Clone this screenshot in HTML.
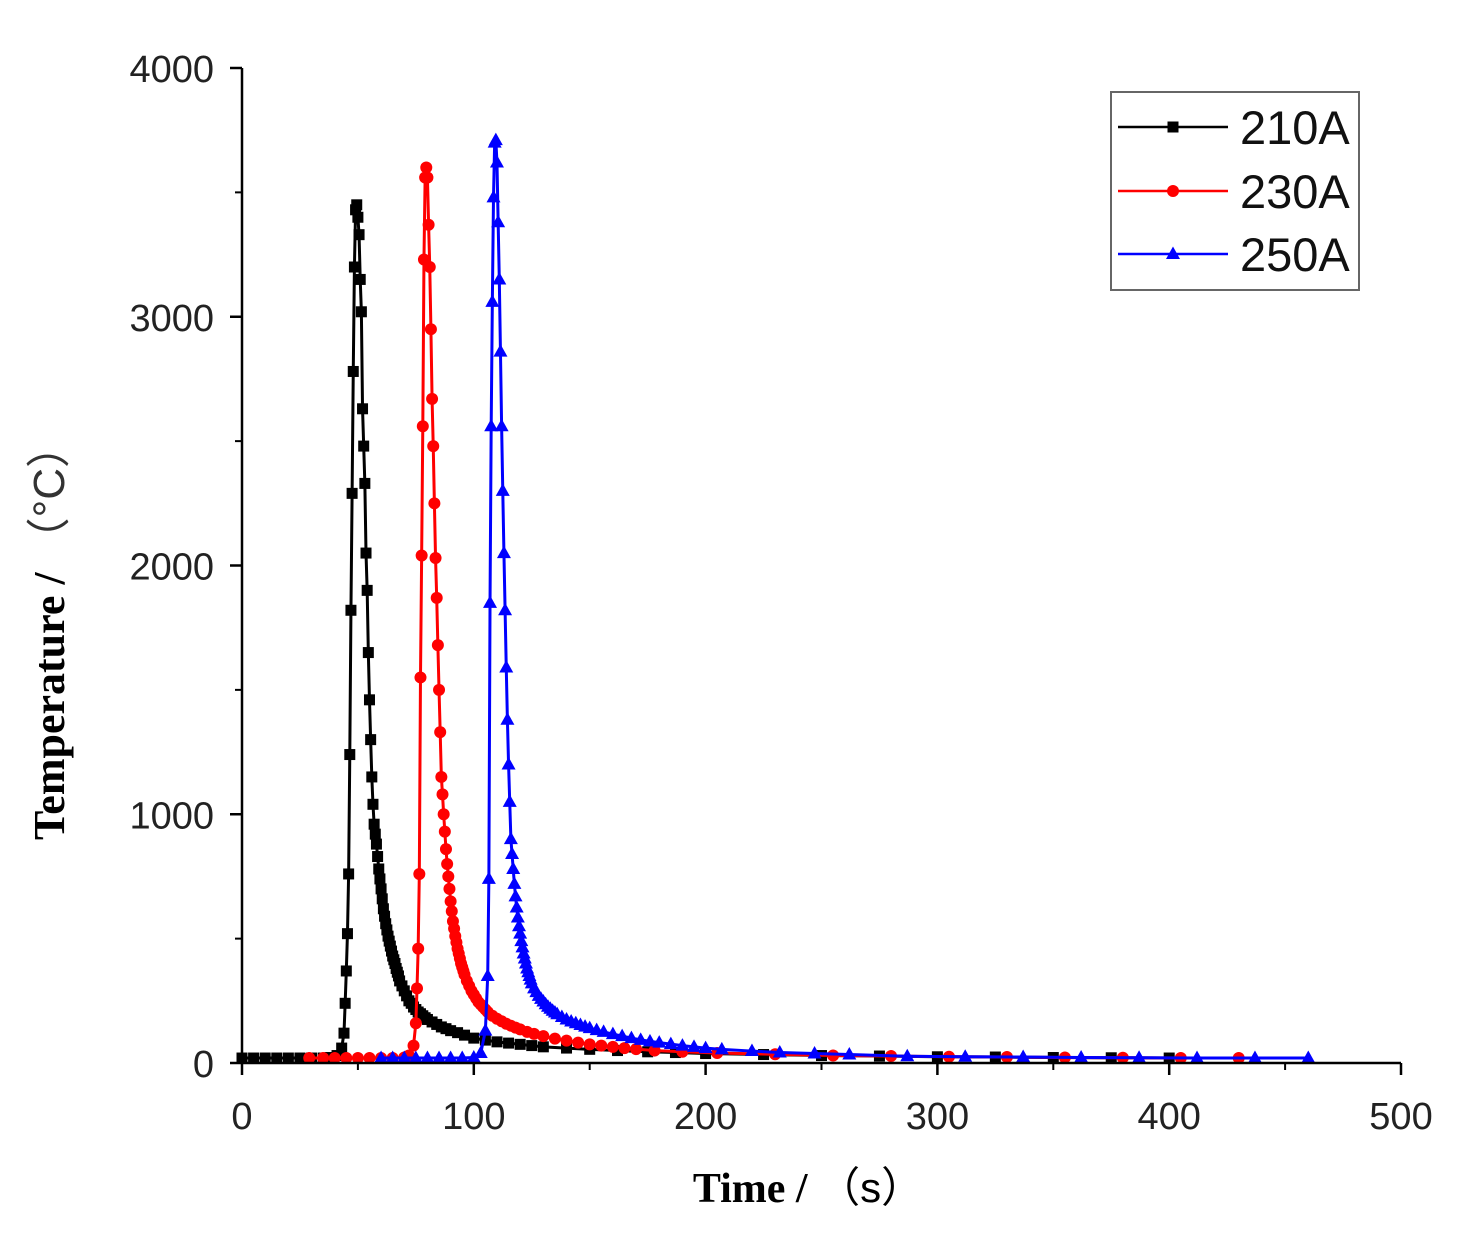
<!DOCTYPE html>
<html><head><meta charset="utf-8">
<style>
html,body{margin:0;padding:0;background:#fff;}
svg{display:block;}
</style></head>
<body>
<svg id="chart" width="1476" height="1248" viewBox="0 0 1476 1248" xmlns="http://www.w3.org/2000/svg">
<g id="series-layer"></g>
<g id="axis-layer"></g>
<rect x="1111" y="92" width="248" height="198" fill="#fff" stroke="#666" stroke-width="2"/>
<g id="legend-layer"></g>
<text x="808" y="1202" text-anchor="middle" font-family="Liberation Serif, serif" font-weight="bold" font-size="42" fill="#000">Time / <tspan font-family="Liberation Sans, Noto Sans CJK SC, sans-serif" font-weight="normal">（s）</tspan></text>
<text transform="translate(64,632) rotate(-90)" text-anchor="middle" font-family="Liberation Serif, serif" font-weight="bold" font-size="44" fill="#000">Temperature / <tspan font-family="Liberation Sans, Noto Sans CJK SC, sans-serif" font-weight="normal" fill="#333">（°C）</tspan></text>
</svg>
<script>
const xTicks = [0,100,200,300,400,500];
const yTicks = [0,1000,2000,3000,4000];
const seriesNames = ["210A","230A","250A"];
const t210 = [0,5,10,15,20,25,30,35,38,41,43,44,44.5,45,45.5,46,46.5,47,47.5,48,48.5,49,49.5,50,50.5,51,51.5,52,52.5,53,53.5,54,54.5,55,55.5,56,56.5,57,57.5,58,58.5,59,59.5,60,60.5,61,61.5,62,62.5,63,63.5,64,64.5,65,65.5,66,66.5,67,67.5,68,69,70,71,72,73,74,75,76,77,78,79,80,82,84,86,88,90,93,96,100,105,110,115,120,125,130,140,150,162,175,187,200,225,250,275,300,325,350,375,400];
const v210 = [20,20,20,20,20,20,20,20,22,30,60,120,240,370,520,760,1240,1820,2290,2780,3200,3430,3450,3400,3330,3150,3020,2630,2480,2330,2050,1900,1650,1460,1300,1150,1040,960,920,880,830,780,740,700,660,620,590,560,535,510,490,470,450,430,415,400,380,365,350,330,310,290,270,250,240,225,215,205,198,190,182,175,165,155,145,138,130,122,112,100,92,85,80,75,70,65,60,55,50,45,42,38,34,30,28,25,24,22,21,20];
const t230 = [29,35,40,45,50,55,60,65,70,72,74,75,75.5,76,76.5,77,77.5,78,78.5,79,79.5,80,80.5,81,81.5,82,82.5,83,83.5,84,84.5,85,85.5,86,86.5,87,87.5,88,88.5,89,89.5,90,90.5,91,91.5,92,92.5,93,93.5,94,94.5,95,95.5,96,97,98,99,100,101,102,103,104,105,106,108,110,112,114,116,118,120,123,126,130,135,140,145,150,155,160,165,170,178,190,205,230,255,280,305,330,355,380,405,430];
const v230 = [20,20,20,20,20,20,20,20,22,30,70,160,300,460,760,1550,2040,2560,3230,3560,3600,3560,3370,3200,2950,2670,2480,2250,2030,1870,1680,1500,1330,1150,1080,1000,930,860,800,750,700,650,610,570,540,510,485,460,440,420,400,385,370,355,330,310,290,275,260,245,235,225,215,205,190,178,168,158,150,142,135,125,117,108,98,90,82,75,70,65,60,56,50,45,40,35,30,28,25,24,22,21,20,20];
const t250 = [60,65,70,75,80,85,90,95,100,103,105,106,106.5,107,107.5,108,108.5,109,109.5,110,110.5,111,111.5,112,112.5,113,113.5,114,114.5,115,115.5,116,116.5,117,117.5,118,118.5,119,119.5,120,120.5,121,121.5,122,122.5,123,123.5,124,124.5,125,126,127,128,129,130,131,132,133,134,135,136,138,140,142,144,146,148,150,153,156,160,164,168,172,176,180,185,190,195,200,207,220,232,247,262,287,312,337,362,387,412,437,460];
const v250 = [20,20,20,20,20,20,20,20,22,40,130,350,740,1850,2560,3060,3480,3700,3710,3620,3380,3150,2860,2560,2300,2050,1820,1590,1380,1200,1050,900,840,780,720,670,625,585,550,520,490,465,440,420,400,380,365,350,335,320,300,285,270,258,247,236,226,218,210,203,196,185,175,167,160,153,146,140,132,125,116,108,100,93,87,82,76,70,65,60,55,48,42,38,34,27,25,24,22,21,20,20,20];

const X0=242, X1=1401, Y0=1063, Y1=68;
const sx = v => X0 + (v-0)/(500-0)*(X1-X0);
const sy = v => Y0 - (v-0)/(4000-0)*(Y0-Y1);
const NS="http://www.w3.org/2000/svg";
function mk(tag, attrs, parent){const e=document.createElementNS(NS,tag);for(const k in attrs)e.setAttribute(k,attrs[k]);parent.appendChild(e);return e;}

const ax=document.getElementById('axis-layer');
let e;
e=mk('line',{x1:X0,y1:Y0,x2:X1,y2:Y0,stroke:'#000','stroke-width':2.5},ax);


e=mk('line',{x1:X0,y1:Y0,x2:X0,y2:Y1,stroke:'#000','stroke-width':2.5},ax);


xTicks.forEach((v,i)=>{
  const t=mk('line',{x1:sx(v),y1:Y0,x2:sx(v),y2:Y0+12,stroke:'#000','stroke-width':2.5},ax);
  
  
  if(i<xTicks.length-1){
    const m=mk('line',{x1:sx(v+50),y1:Y0,x2:sx(v+50),y2:Y0+7,stroke:'#000','stroke-width':2},ax);
    
    
  }
  const l=mk('text',{x:sx(v),y:1129,'text-anchor':'middle','font-family':'Liberation Sans, sans-serif','font-size':38,fill:'#222'},ax);
  l.textContent=v;
  
  
});
yTicks.forEach((v,i)=>{
  const t=mk('line',{x1:X0-12,y1:sy(v),x2:X0,y2:sy(v),stroke:'#000','stroke-width':2.5},ax);
  
  
  if(i<yTicks.length-1){
    const m=mk('line',{x1:X0-7,y1:sy(v+500),x2:X0,y2:sy(v+500),stroke:'#000','stroke-width':2},ax);
    
    
  }
  const l=mk('text',{x:214,y:sy(v)+14,'text-anchor':'end','font-family':'Liberation Sans, sans-serif','font-size':38,fill:'#222'},ax);
  l.textContent=v;
  
  
});

function marker(kind,cx,cy,color,parent){
  let m;
  if(kind==='square') m=mk('rect',{x:cx-5.5,y:cy-5.5,width:11,height:11,fill:color},parent);
  else if(kind==='circle') m=mk('circle',{cx:cx,cy:cy,r:6,fill:color},parent);
  else m=mk('polygon',{points:`${cx},${cy-7.5} ${cx-7},${cy+5} ${cx+7},${cy+5}`,fill:color},parent);
  return m;
}
const sl=document.getElementById('series-layer');
const series=[[t210,v210,'#000','square'],[t230,v230,'#ff0000','circle'],[t250,v250,'#0000ff','triangle']];
series.forEach((s,k)=>{
  const g=mk('g',{},sl);
  
  
  const pts=s[0].map((t,i)=>sx(t)+','+sy(s[1][i])).join(' ');
  const pl=mk('polyline',{points:pts,fill:'none',stroke:s[2],'stroke-width':3},g);
  
  
  s[0].forEach((t,i)=>{
    const m=marker(s[3],sx(t),sy(s[1][i]),s[2],g);
    
    
  });
});

const lg=document.getElementById('legend-layer');
const ly=[127,191,254];
series.forEach((s,k)=>{
  const g=mk('g',{},lg);
  
  
  mk('line',{x1:1118,y1:ly[k],x2:1228,y2:ly[k],stroke:s[2],'stroke-width':2.5},g);
  marker(s[3],1173,ly[k],s[2],g);
  const t=mk('text',{x:1240,y:ly[k]+17,'font-family':'Liberation Sans, sans-serif','font-size':47,fill:'#111'},g);
  t.textContent=seriesNames[k];
});
</script>
</body></html>
